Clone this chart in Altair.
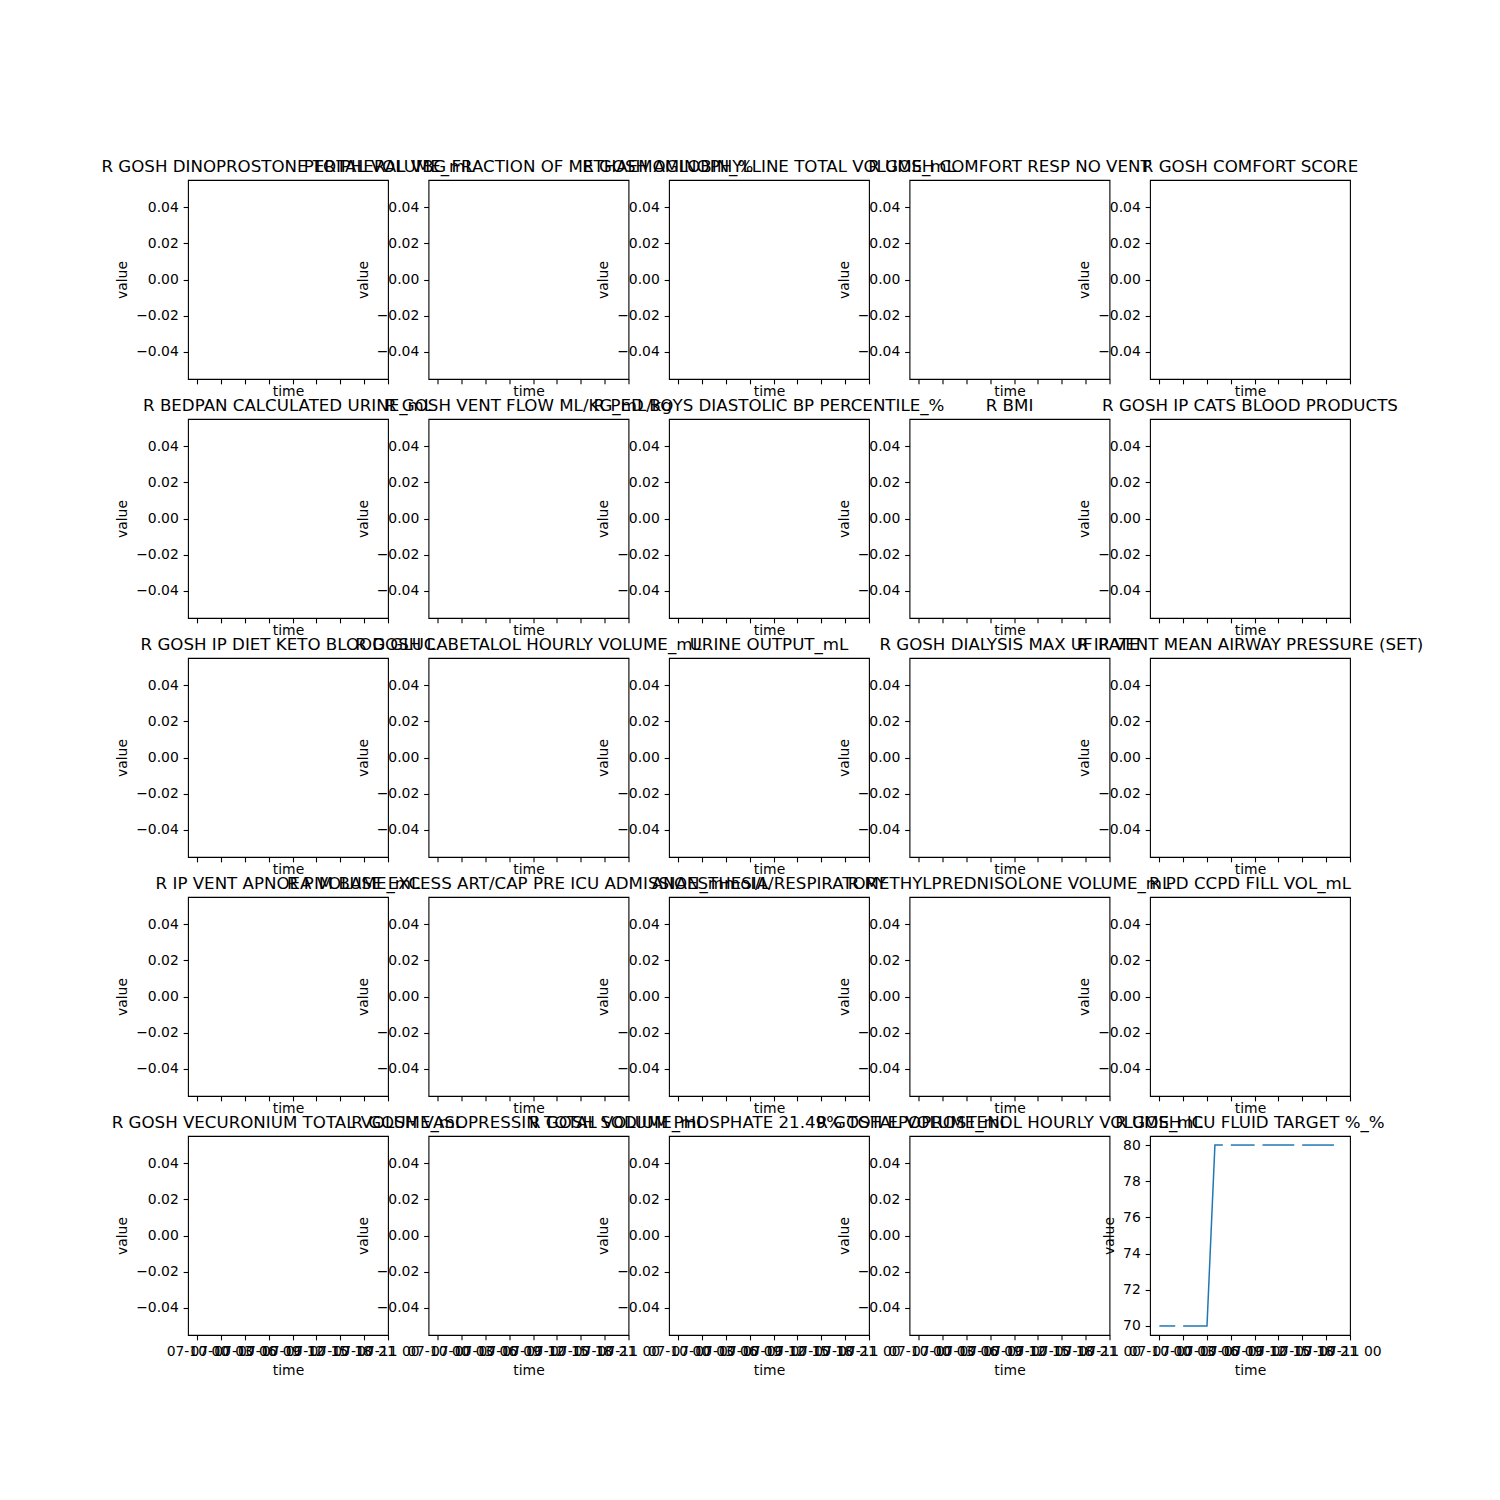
import altair as alt
import pandas as pd

# ---------------- data ----------------
panel_titles = [
    "R GOSH DINOPROSTONE TOTAL VOLUME_mL",
    "PERIPHERAL VBG FRACTION OF METHAEMOGLOBIN_%",
    "R GOSH AMINOPHYLLINE TOTAL VOLUME_mL",
    "R GOSH COMFORT RESP NO VENT",
    "R GOSH COMFORT SCORE",
    "R BEDPAN CALCULATED URINE_mL",
    "R GOSH VENT FLOW ML/KG_mL/kg",
    "R PED BOYS DIASTOLIC BP PERCENTILE_%",
    "R BMI",
    "R GOSH IP CATS BLOOD PRODUCTS",
    "R GOSH IP DIET KETO BLOOD GLUC",
    "R GOSH LABETALOL HOURLY VOLUME_mL",
    "URINE OUTPUT_mL",
    "R GOSH DIALYSIS MAX UF RATE",
    "R IP VENT MEAN AIRWAY PRESSURE (SET)",
    "R IP VENT APNOEA VOLUME_mL",
    "R PIM BASE EXCESS ART/CAP PRE ICU ADMISSION_mmol/L",
    "ANAESTHESIA/RESPIRATORY",
    "R METHYLPREDNISOLONE VOLUME_mL",
    "R PD CCPD FILL VOL_mL",
    "R GOSH VECURONIUM TOTAL VOLUME_mL",
    "R GOSH VASOPRESSIN TOTAL VOLUME_mL",
    "R GOSH SODIUM PHOSPHATE 21.49% TOTAL VOLUME_mL",
    "R GOSH EPOPROSTENOL HOURLY VOLUME_mL",
    "R GOSH ICU FLUID TARGET %_%",
]

# last panel series (hours after 07-10 00:00, None = missing value -> gap)
line_hours = [0, 1, 2, 2.5, 3, 4, 5, 6, 7, 8, 8.5, 9, 10, 11, 12, 12.5,
              13, 14, 15, 16, 17, 17.5, 18, 19, 20, 21, 22]
line_values = [70, 70, 70, None, 70, 70, 70, 70, 80, 80, None, 80, 80, 80, 80, None,
               80, 80, 80, 80, 80, None, 80, 80, 80, 80, 80]

tick_hours = [0, 3, 6, 9, 12, 15, 18, 21, 24]
x_domain_hours = [-1.18, 24.02]
empty_y_domain = [-0.055, 0.055]
empty_y_ticks = [-0.04, -0.02, 0.0, 0.02, 0.04]
line_y_domain = [69.5, 80.5]
line_y_ticks = [70, 72, 74, 76, 78, 80]

# ---------------- helpers ----------------
BASE = pd.Timestamp("2023-07-10T00:00:00Z")


def to_ms(h):
    return int((BASE + pd.Timedelta(hours=h)).value // 1_000_000)


def to_iso(h):
    return (BASE + pd.Timedelta(hours=h)).strftime("%Y-%m-%dT%H:%M:%SZ")


tick_ms = [to_ms(h) for h in tick_hours]
x_domain = [to_ms(h) for h in x_domain_hours]

# build the line table; split at missing values into segments
seg_ids, seg = [], 0
for v in line_values:
    if v is None:
        seg += 1
    seg_ids.append(seg)
line_df = pd.DataFrame({"time": [to_iso(h) for h in line_hours],
                        "value": line_values, "seg": seg_ids})
line_df = line_df[line_df["value"].notna()].reset_index(drop=True)

empty_df = pd.DataFrame({"time": pd.Series([], dtype=str),
                         "value": pd.Series([], dtype=float),
                         "seg": pd.Series([], dtype=int)})

FONT = "DejaVu Sans"
LABEL_SIZE = 13.9
TITLE_SIZE = 16.67
TICK = 4.86


def panel(i):
    title = panel_titles[i]
    row = i // 5
    bottom = row == 4
    has_data = i == len(panel_titles) - 1
    df = line_df if has_data else empty_df
    ydom = line_y_domain if has_data else empty_y_domain
    yticks = line_y_ticks if has_data else empty_y_ticks
    ylabel = ("format(datum.value, 'd')" if has_data
              else "replace(format(datum.value, '.2f'), '-', '\u2212')")
    x_axis = alt.Axis(
        title="time", values=tick_ms,
        labelExpr="utcFormat(datum.value, '%m-%d %H')",
        labels=bottom, labelOverlap=False, labelFlush=False,
        grid=False, domain=False, ticks=True, tickSize=TICK,
        tickColor="black", tickWidth=1.1, labelPadding=4.9,
        labelFont=FONT, labelFontSize=LABEL_SIZE, labelColor="black",
        titleFont=FONT, titleFontSize=LABEL_SIZE, titleFontWeight="normal",
        titleColor="black", titlePadding=4.5 if bottom else 0.5,
    )
    y_axis = alt.Axis(
        title="value", values=yticks, labelExpr=ylabel,
        labelOverlap=False, labelFlush=False,
        grid=False, domain=False, ticks=True, tickSize=TICK,
        tickColor="black", tickWidth=1.1, labelPadding=4.9,
        labelFont=FONT, labelFontSize=LABEL_SIZE, labelColor="black",
        titleFont=FONT, titleFontSize=LABEL_SIZE, titleFontWeight="normal",
        titleColor="black", titlePadding=6.0,
    )
    ch = alt.Chart(df).mark_line(color="#1f77b4", strokeWidth=1.5, clip=True).encode(
        x=alt.X("time:T", scale=alt.Scale(type="utc", domain=x_domain, nice=False), axis=x_axis),
        y=alt.Y("value:Q", scale=alt.Scale(domain=ydom, nice=False, zero=False), axis=y_axis),
        detail="seg:N",
    ).properties(
        width=200, height=199,
        title=alt.TitleParams(text=title, anchor="middle", frame="group",
                              offset=-8.7, baseline="alphabetic", font=FONT,
                              fontSize=TITLE_SIZE, fontWeight="normal", color="black"),
    )
    return ch


chart = alt.concat(*[panel(i) for i in range(len(panel_titles))], columns=5,
                   spacing=alt.RowColnumber(row=40, column=40.5) if hasattr(alt, "RowColnumber") else 40,
                   bounds="flush").properties(
    padding={"left": 100, "top": 158, "right": 5, "bottom": 5},
    background="white",
).configure_view(stroke="black", strokeWidth=1.1)

chart.save("out.html", embed_options={"renderer": "svg", "actions": False})
